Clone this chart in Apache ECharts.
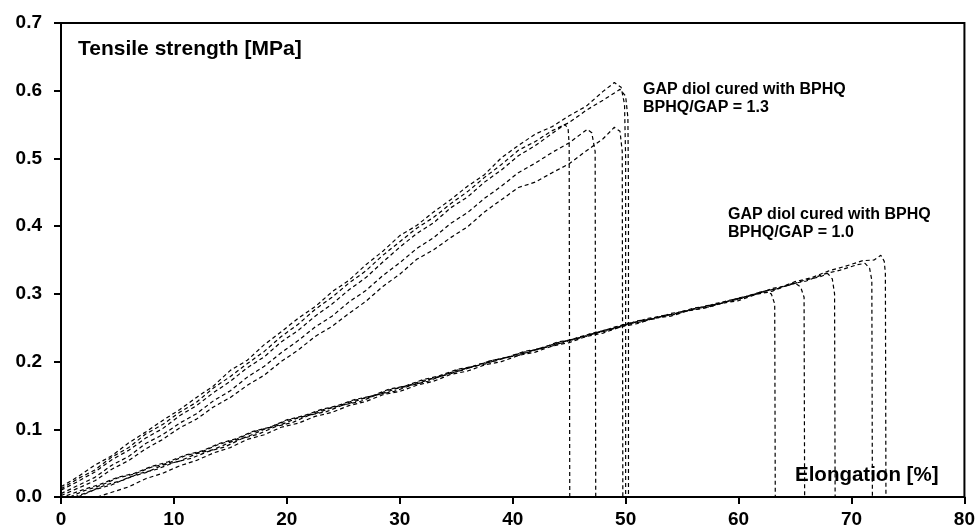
<!DOCTYPE html>
<html>
<head>
<meta charset="utf-8">
<script src="https://cdn.jsdelivr.net/npm/echarts@6/dist/echarts.min.js"></script>
<style>
  html, body { margin: 0; padding: 0; background: #fff; }
  #chart { width: 978px; height: 531px; }
</style>
</head>
<body>
<div id="chart"></div>
<script>
// axis ticks
const xTicks = [0, 10, 20, 30, 40, 50, 60, 70, 80]
const yTicks = [0, 0.1, 0.2, 0.3, 0.4, 0.5, 0.6, 0.7]

// BPHQ/GAP = 1.3 specimens [elongation %, stress MPa]
const gap13A = [[0,0.015],[1.5,0.03],[3,0.047],[4.5,0.061],[6,0.08],[7.5,0.096],[9,0.113],[10.5,0.129],[12,0.147],[13.5,0.164],[15,0.187],[16.5,0.202],[18,0.225],[19.5,0.244],[21,0.264],[22.5,0.281],[24,0.303],[25.5,0.32],[27,0.343],[28.5,0.363],[30,0.386],[31.5,0.401],[33,0.421],[34.5,0.439],[36,0.459],[37.5,0.476],[39,0.501],[40.5,0.519],[42,0.536],[43.5,0.547],[45,0.563],[46.5,0.577],[48,0.599],[49,0.612],[49.6,0.605],[49.9,0.58],[50.0,0.5],[50.0,0]]
const gap13B = [[0,0.012],[1.5,0.027],[3,0.04],[4.5,0.059],[6,0.073],[7.5,0.093],[9,0.107],[10.5,0.125],[12,0.14],[13.5,0.161],[15,0.178],[16.5,0.197],[18,0.215],[19.5,0.237],[21,0.255],[22.5,0.277],[24,0.295],[25.5,0.316],[27,0.334],[28.5,0.357],[30,0.377],[31.5,0.397],[33,0.413],[34.5,0.433],[36,0.451],[37.5,0.472],[39,0.491],[40.5,0.512],[42,0.525],[43.5,0.541],[45,0.553],[46.5,0.571],[48,0.586],[49.5,0.602],[50.0,0.592],[50.2,0.56],[50.25,0.45],[50.25,0]]
const gap13C = [[0,0.002],[1.5,0.013],[3,0.024],[4.5,0.041],[6,0.054],[7.5,0.071],[9,0.085],[10.5,0.102],[12,0.115],[13.5,0.133],[15,0.147],[16.5,0.165],[18,0.18],[19.5,0.2],[21,0.217],[22.5,0.237],[24,0.252],[25.5,0.271],[27,0.289],[28.5,0.311],[30,0.329],[31.5,0.351],[33,0.365],[34.5,0.383],[36,0.399],[37.5,0.421],[39,0.439],[40.5,0.457],[42,0.465],[43.5,0.479],[45,0.492],[46.5,0.511],[48,0.529],[49.0,0.546],[49.5,0.54],[49.7,0.51],[49.75,0]]
const gap13D = [[0,0.005],[1.5,0.017],[3,0.029],[4.5,0.047],[6,0.06],[7.5,0.079],[9,0.092],[10.5,0.109],[12,0.123],[13.5,0.142],[15,0.157],[16.5,0.177],[18,0.193],[19.5,0.213],[21,0.231],[22.5,0.251],[24,0.267],[25.5,0.288],[27,0.305],[28.5,0.327],[30,0.346],[31.5,0.367],[33,0.383],[34.5,0.404],[36,0.42],[37.5,0.441],[39,0.459],[40.5,0.479],[42,0.493],[43.5,0.509],[45,0.523],[46.6,0.543],[47.0,0.538],[47.3,0.51],[47.35,0]]
const gap13E = [[0,0.01],[1.5,0.023],[3,0.037],[4.5,0.055],[6,0.069],[7.5,0.087],[9,0.101],[10.5,0.12],[12,0.135],[13.5,0.154],[15,0.171],[16.5,0.191],[18,0.207],[19.5,0.229],[21,0.246],[22.5,0.267],[24,0.285],[25.5,0.306],[27,0.324],[28.5,0.347],[30,0.369],[31.5,0.389],[33,0.405],[34.5,0.427],[36,0.443],[37.5,0.465],[39,0.483],[40.5,0.504],[42,0.519],[43.5,0.537],[44.6,0.55],[44.9,0.545],[45.0,0.52],[45.05,0]]

// BPHQ/GAP = 1.0 specimens
const gap10F = [[1.2,0],[2.5,0.008],[4,0.018],[5.5,0.025],[7,0.035],[8.5,0.041],[10,0.051],[11.5,0.057],[13,0.067],[14.5,0.074],[16,0.086],[17.5,0.093],[19,0.104],[20.5,0.11],[22,0.121],[23.5,0.126],[25,0.136],[26.5,0.141],[28,0.151],[29.5,0.156],[31,0.165],[32.5,0.171],[34,0.181],[35.5,0.187],[37,0.196],[38.5,0.201],[40,0.209],[41.5,0.214],[43,0.223],[44.5,0.228],[46,0.237],[47.5,0.242],[49,0.251],[50.5,0.256],[52,0.264],[53.5,0.267],[55,0.274],[56.5,0.278],[58,0.286],[59.5,0.29],[61,0.298],[62.3,0.303],[62.9,0.3],[63.2,0.285],[63.25,0]]
const gap10G = [[0.5,0.002],[2,0.011],[3.5,0.019],[5,0.029],[6.5,0.035],[8,0.045],[9.5,0.052],[11,0.062],[12.5,0.068],[14,0.079],[15.5,0.086],[17,0.097],[18.5,0.103],[20,0.114],[21.5,0.12],[23,0.129],[24.5,0.135],[26,0.144],[27.5,0.149],[29,0.159],[30.5,0.164],[32,0.173],[33.5,0.179],[35,0.188],[36.5,0.193],[38,0.201],[39.5,0.206],[41,0.215],[42.5,0.219],[44,0.229],[45.5,0.233],[47,0.242],[48.5,0.247],[50,0.256],[51.5,0.26],[53,0.267],[54.5,0.271],[56,0.279],[57.5,0.282],[59,0.29],[60.5,0.295],[62,0.303],[63.5,0.308],[65,0.316],[65.5,0.31],[65.8,0.295],[65.85,0]]
const gap10H = [[1.5,0],[3,0.011],[4.5,0.018],[6,0.029],[7.5,0.036],[9,0.047],[10.5,0.053],[12,0.064],[13.5,0.07],[15,0.081],[16.5,0.089],[18,0.1],[19.5,0.107],[21,0.117],[22.5,0.123],[24,0.132],[25.5,0.138],[27,0.147],[28.5,0.153],[30,0.162],[31.5,0.167],[33,0.176],[34.5,0.182],[36,0.191],[37.5,0.196],[39,0.205],[40.5,0.209],[42,0.218],[43.5,0.223],[45,0.232],[46.5,0.237],[48,0.246],[49.5,0.251],[51,0.26],[52.5,0.263],[54,0.271],[55.5,0.275],[57,0.282],[58.5,0.286],[60,0.294],[61.5,0.299],[63,0.308],[64.5,0.313],[66,0.321],[67.2,0.325],[67.9,0.33],[68.3,0.322],[68.5,0.3],[68.55,0]]
const gap10I = [[3.2,0],[4.5,0.007],[6,0.015],[7.5,0.027],[9,0.035],[10.5,0.046],[12,0.054],[13.5,0.065],[15,0.073],[16.5,0.085],[18,0.092],[19.5,0.103],[21,0.109],[22.5,0.119],[24,0.125],[25.5,0.135],[27,0.141],[28.5,0.151],[30,0.156],[31.5,0.165],[33,0.171],[34.5,0.181],[36,0.186],[37.5,0.195],[39,0.2],[40.5,0.209],[42,0.214],[43.5,0.223],[45,0.228],[46.5,0.237],[48,0.242],[49.5,0.251],[51,0.256],[52.5,0.264],[54,0.267],[55.5,0.275],[57,0.279],[58.5,0.286],[60,0.29],[61.5,0.299],[63,0.304],[64.5,0.314],[66,0.319],[67.5,0.329],[69,0.335],[70.5,0.343],[71.2,0.345],[71.6,0.338],[71.8,0.32],[71.85,0]]
const gap10J = [[0.8,0],[2,0.009],[3.5,0.017],[5,0.028],[6.5,0.034],[8,0.044],[9.5,0.05],[11,0.061],[12.5,0.067],[14,0.078],[15.5,0.085],[17,0.096],[18.5,0.103],[20,0.113],[21.5,0.119],[23,0.128],[24.5,0.134],[26,0.143],[27.5,0.148],[29,0.158],[30.5,0.163],[32,0.172],[33.5,0.177],[35,0.187],[36.5,0.192],[38,0.201],[39.5,0.206],[41,0.214],[42.5,0.219],[44,0.228],[45.5,0.233],[47,0.241],[48.5,0.246],[50,0.255],[51.5,0.259],[53,0.266],[54.5,0.27],[56,0.278],[57.5,0.281],[59,0.289],[60.5,0.294],[62,0.303],[63.5,0.308],[65,0.318],[66.5,0.324],[68,0.334],[69.5,0.341],[71,0.349],[72,0.35],[72.6,0.357],[72.9,0.348],[73.0,0.33],[73.05,0]]

const curves = [gap13A, gap13B, gap13C, gap13D, gap13E, gap10F, gap10G, gap10H, gap10I, gap10J]

const fontFamily = '"Liberation Sans", Arial, sans-serif'

const chart = echarts.init(document.getElementById('chart'))

// 坐标轴通用样式
const axisCommon = {
  type: 'value',
  axisLine: { show: true, lineStyle: { color: '#000', width: 2 } },
  axisTick: { show: true, inside: false, length: 7, lineStyle: { color: '#000', width: 2 } },
  splitLine: { show: false },
  axisLabel: {
    color: '#000',
    fontSize: 19,
    fontWeight: 'bold',
    fontFamily: fontFamily
  }
}

const option = {
  animation: false,
  backgroundColor: '#fff',
  grid: {
    left: 61,
    right: 12,
    top: 23,
    bottom: 34,
    show: true,
    borderColor: '#000',
    borderWidth: 2
  },
  xAxis: {
    ...axisCommon,
    min: xTicks[0],
    max: xTicks[xTicks.length - 1],
    interval: xTicks[1] - xTicks[0],
    axisLabel: { ...axisCommon.axisLabel, margin: 13 }
  },
  yAxis: {
    ...axisCommon,
    min: yTicks[0],
    max: yTicks[yTicks.length - 1],
    interval: 0.1,
    axisLabel: {
      ...axisCommon.axisLabel,
      margin: 19,
      formatter: (v) => v.toFixed(1)
    }
  },
  series: curves.map((data) => ({
    type: 'line',
    data: data,
    showSymbol: false,
    symbol: 'none',
    smooth: false,
    silent: true,
    lineStyle: { color: '#000', width: 1.2, type: [4, 3] }
  })),
  graphic: [
    {
      type: 'text', left: 78, top: 39,
      style: { text: 'Tensile strength [MPa]', fill: '#000', fontSize: 21, fontWeight: 'bold', fontFamily: fontFamily }
    },
    {
      type: 'text', left: 643, top: 81,
      style: { text: 'GAP diol cured with BPHQ\nBPHQ/GAP = 1.3', fill: '#000', fontSize: 16, fontWeight: 'bold', fontFamily: fontFamily, lineHeight: 18 }
    },
    {
      type: 'text', left: 728, top: 206,
      style: { text: 'GAP diol cured with BPHQ\nBPHQ/GAP = 1.0', fill: '#000', fontSize: 16, fontWeight: 'bold', fontFamily: fontFamily, lineHeight: 18 }
    },
    {
      type: 'text', left: 795, top: 465,
      style: { text: 'Elongation [%]', fill: '#000', fontSize: 20.5, fontWeight: 'bold', fontFamily: fontFamily }
    }
  ]
}

chart.setOption(option)
</script>
</body>
</html>
